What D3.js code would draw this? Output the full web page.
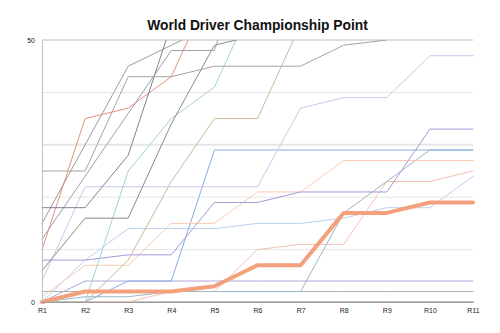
<!DOCTYPE html>
<html><head><meta charset="utf-8">
<script src="https://cdn.jsdelivr.net/npm/d3@7"></script>
<style>body{margin:0;background:#fff}svg{display:block}</style>
</head><body><svg id="c" width="500" height="333"></svg>
<script>
const rounds = ["R1","R2","R3","R4","R5","R6","R7","R8","R9","R10","R11"];
const yTickLabels = [0, 50];
const gridValues = [10, 20, 30, 40];
const drivers = ["Petrov","Kovalainen","Glock","Pic","de la Rosa","Karthikeyan","Ricciardo","Vergne","Massa","Schumacher","Senna","Maldonado","di Resta","Perez","Kobayashi","Rosberg","Grosjean","Raikkonen","Alonso","Webber","Hamilton","Vettel","Button","Hulkenberg"];
const petrov     = [0,0,0,0,0,0,0,0,0,0,0];
const kovalainen = [0,0,0,0,0,0,0,0,0,0,0];
const glock      = [0,0,0,0,0,0,0,0,0,0,0];
const pic        = [0,0,0,0,0,0,0,0,0,0,0];
const delarosa   = [0,0,0,0,0,0,0,0,0,0,0];
const karthikeyan= [0,0,0,0,0,0,0,0,0,0,0];
const ricciardo  = [2,2,2,2,2,2,2,2,2,2,2];
const vergne     = [0,4,4,4,4,4,4,4,4,4,4];
const massa      = [0,0,0,2,2,10,11,11,23,23,25];
const schumacher = [0,1,1,2,2,2,2,17,23,29,29];
const senna      = [0,8,14,14,14,15,15,16,18,18,24];
const maldonado  = [0,0,4,4,29,29,29,29,29,29,29];
const diresta    = [1,7,7,15,15,21,21,27,27,27,27];
const perez      = [4,22,22,22,22,22,37,39,39,47,47];
const kobayashi  = [8,8,9,9,19,19,21,21,21,33,33];
const rosberg    = [0,0,25,35,41,59,67,75,75,76,77];
const grosjean   = [0,0,8,23,35,35,53,53,61,61,76];
const raikkonen  = [6,16,16,34,49,51,55,73,83,98,116];
const alonso     = [10,35,37,43,61,76,86,111,129,154,164];
const webber     = [12,24,36,48,48,73,79,91,116,120,124];
const hamilton   = [15,30,45,49,53,63,88,88,92,92,117];
const vettel     = [18,18,28,53,61,73,85,85,100,110,122];
const button     = [25,25,43,43,45,45,45,49,50,68,76];
const hulkenberg = [0,2,2,2,3,7,7,17,17,19,19];
const seriesValues = [petrov,kovalainen,glock,pic,delarosa,karthikeyan,ricciardo,vergne,massa,schumacher,senna,maldonado,diresta,perez,kobayashi,rosberg,grosjean,raikkonen,alonso,webber,hamilton,vettel,button,hulkenberg];
const colors = ["#c4c4c4","#c4c4c4","#c4c4c4","#c4c4c4","#c4c4c4","#c4c4c4","#b0b0b0","#b0a4dc","#f4c2b4","#98b8c4","#bcd0f0","#88ace6","#f8ccb0","#cdc6ec","#a698d8","#a4d2da","#ccb898","#8a8a8a","#e8907e","#9aa0ac","#9c9c9c","#7e8294","#a4a4a4","#f4a07c"];
const highlight = "Hulkenberg";

const svg = d3.select("#c");
const x = d3.scalePoint().domain(rounds).range([42, 473]);
const y = d3.scaleLinear().domain([0, 50]).range([302, 40]);

svg.append("text").attr("x", 257.5).attr("y", 30).attr("text-anchor","middle")
  .attr("font-family","Liberation Sans, Arial, Helvetica, sans-serif").attr("font-weight","bold")
  .attr("font-size","13.8px").attr("fill","#111").text("World Driver Championship Point");

svg.append("g").selectAll("line").data(gridValues).join("line")
  .attr("x1", 42).attr("x2", 473).attr("y1", d=>y(d)).attr("y2", d=>y(d))
  .attr("stroke", "#e6e6e6").attr("stroke-width", d=> d===30 ? 2 : 1);
svg.append("line").attr("x1",42).attr("x2",473).attr("y1",y(50)).attr("y2",y(50))
  .attr("stroke","#dedede").attr("stroke-width",2);

svg.append("defs").append("clipPath").attr("id","clip").append("rect")
  .attr("x", 40).attr("y", y(50)).attr("width", 440).attr("height", 280);

const line = d3.line().x((d,i)=>x(rounds[i])).y(d=>y(d));
const g = svg.append("g").attr("clip-path","url(#clip)");
drivers.forEach((name, k) => {
  g.append("path").datum(seriesValues[k]).attr("d", line).attr("fill","none")
   .attr("stroke", colors[k]).attr("stroke-width", name===highlight ? 4 : 1)
   .attr("stroke-linejoin","round").attr("stroke-linecap","round");
});

const ya = svg.append("g").attr("transform","translate(42,0)")
  .call(d3.axisLeft(y).tickValues(yTickLabels).tickSize(0).tickPadding(7));
ya.select(".domain").attr("stroke","#c0c0c0");
ya.selectAll("text").attr("font-family","Liberation Sans, Arial, sans-serif").attr("font-size","7px").attr("fill","#222");

const xa = svg.append("g").attr("transform","translate(0,302)")
  .call(d3.axisBottom(x).tickSize(0).tickPadding(6));
xa.select(".domain").attr("stroke","#999").attr("stroke-width",1.2);
xa.selectAll("text").attr("font-family","Liberation Sans, Arial, sans-serif").attr("font-size","7px").attr("fill","#222");
</script></body></html>
